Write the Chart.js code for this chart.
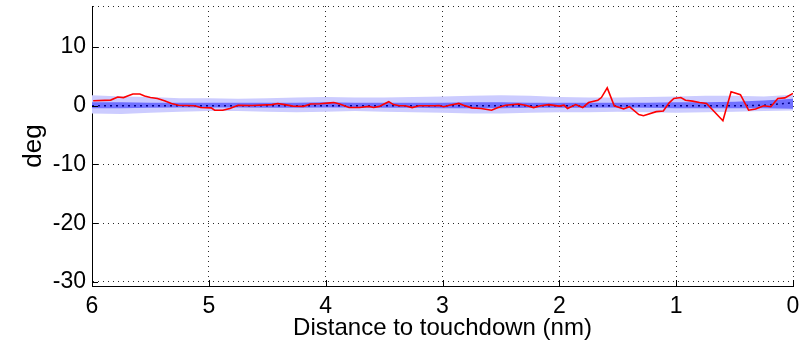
<!DOCTYPE html>
<html>
<head>
<meta charset="utf-8">
<script src="https://cdn.jsdelivr.net/npm/chart.js@4.4.1/dist/chart.umd.min.js"></script>
<style>
html,body{margin:0;padding:0;background:#fff;}
#wrap{width:808px;height:348px;position:relative;}
</style>
</head>
<body>
<div id="wrap"><canvas id="c" width="808" height="348"></canvas></div>
<script>
// ---- data ----
const xTicks = [0, 1, 2, 3, 4, 5, 6];
const yTicks = [-30, -20, -10, 0, 10];
const yTop = 17;
const yBottom = -30.7;

// red trace
const redDist = [5.99,5.84,5.78,5.73,5.69,5.65,5.59,5.55,5.50,5.44,5.38,5.32,5.26,5.12,5.07,4.98,4.95,4.88,4.82,4.75,4.63,4.46,4.41,4.35,4.28,4.19,4.13,4.05,3.96,3.93,3.88,3.80,3.71,3.63,3.59,3.54,3.50,3.46,3.42,3.37,3.32,3.26,3.20,3.07,3.03,2.99,2.94,2.86,2.82,2.75,2.67,2.58,2.53,2.46,2.35,2.29,2.22,2.16,2.09,2.00,1.96,1.93,1.86,1.80,1.75,1.67,1.64,1.59,1.53,1.45,1.40,1.32,1.28,1.17,1.11,1.06,1.02,0.96,0.92,0.86,0.80,0.74,0.60,0.53,0.45,0.38,0.32,0.25,0.19,0.13,0.07,0.00];
const redDeg  = [0.85,0.97,1.5,1.4,1.7,2.0,2.0,1.65,1.4,1.25,0.85,0.4,0.1,0.0,-0.3,-0.35,-0.75,-0.75,-0.45,0.1,0.05,0.2,0.4,0.2,-0.05,-0.1,0.3,0.35,0.5,0.55,0.3,-0.3,-0.3,-0.1,-0.3,-0.1,0.3,0.7,0.2,0.0,0.0,-0.3,0.0,0.0,0.05,-0.15,0.1,0.4,0.1,-0.35,-0.45,-0.75,-0.35,0.1,0.3,0.1,-0.3,0.0,0.2,-0.05,0.1,-0.45,0.2,-0.3,0.55,0.95,1.4,3.05,0.0,-0.55,-0.15,-1.5,-1.7,-1.0,-0.9,0.5,1.25,1.4,0.95,0.8,0.55,0.4,-2.55,2.4,1.9,-0.75,-0.55,0.0,-0.15,1.25,1.35,2.1];

// blue confidence bands
const bandDist  = [6,5.75,5.5,5.25,5,4.75,4.5,4.25,4,3.75,3.5,3.25,3,2.75,2.5,2.25,2,1.75,1.5,1.25,1,0.75,0.5,0.25,0];
const outerTop  = [1.8,1.6,1.5,1.3,1.3,1.2,1.3,1.4,1.5,1.4,1.4,1.5,1.6,1.7,1.8,1.7,1.5,1.4,1.4,1.5,1.6,1.7,1.7,1.6,1.9];
const outerBot  = [-1.3,-1.4,-1.2,-1.0,-0.9,-0.9,-1.0,-1.1,-1.0,-0.9,-1.0,-1.1,-1.2,-1.3,-1.3,-1.2,-1.1,-1.1,-1.0,-1.1,-1.2,-1.1,-1.0,-0.9,-0.8];
const innerTop  = [0.6,0.6,0.5,0.5,0.5,0.5,0.5,0.5,0.6,0.5,0.5,0.5,0.5,0.6,0.6,0.5,0.5,0.5,0.5,0.5,0.6,0.6,0.7,0.9,1.2];
const innerBot  = [-0.4,-0.4,-0.35,-0.3,-0.3,-0.3,-0.35,-0.35,-0.3,-0.3,-0.35,-0.35,-0.4,-0.4,-0.4,-0.35,-0.35,-0.35,-0.3,-0.35,-0.4,-0.4,-0.4,-0.4,-0.5];
const meanDeg   = [0,0,0,0,0,0,0,0,0,0,0,0,0,0,0,0,0,0,0,0,0,0,0,0.1,0.5];

const pts = (xs, ys) => xs.map((x, i) => ({x: x, y: ys[i]}));
const FONT = "'Liberation Sans', Arial, Helvetica, sans-serif";

const innerTicks = {
  id: 'innerTicks',
  afterDraw(chart) {
    const {ctx, chartArea: a, scales: {x, y}} = chart;
    ctx.save();
    ctx.strokeStyle = '#000';
    ctx.lineWidth = 1;
    yTicks.forEach(v => {
      const p = Math.round(y.getPixelForValue(v)) + 0.5;
      ctx.beginPath(); ctx.moveTo(a.left, p); ctx.lineTo(a.left + 6, p); ctx.stroke();
    });
    xTicks.forEach(v => {
      const p = Math.round(x.getPixelForValue(v)) + 0.5;
      ctx.beginPath(); ctx.moveTo(p, a.bottom); ctx.lineTo(p, a.bottom - 6); ctx.stroke();
    });
    ctx.restore();
  }
};

new Chart(document.getElementById('c'), {
  type: 'line',
  data: {
    datasets: [
      {data: pts(redDist, redDeg), borderColor: 'rgb(255,0,0)', borderWidth: 1.6, pointRadius: 0, fill: false, tension: 0},
      {data: pts(bandDist, meanDeg), borderColor: 'rgb(0,0,140)', borderWidth: 1.5, borderDash: [2, 4], pointRadius: 0, fill: false},
      {data: pts(bandDist, innerTop), borderWidth: 0, borderColor: 'rgba(0,0,0,0)', pointRadius: 0, fill: '+1', backgroundColor: 'rgb(112,112,255)'},
      {data: pts(bandDist, innerBot), borderWidth: 0, borderColor: 'rgba(0,0,0,0)', pointRadius: 0, fill: false},
      {data: pts(bandDist, outerTop), borderWidth: 0, borderColor: 'rgba(0,0,0,0)', pointRadius: 0, fill: '+1', backgroundColor: 'rgb(204,204,255)'},
      {data: pts(bandDist, outerBot), borderWidth: 0, borderColor: 'rgba(0,0,0,0)', pointRadius: 0, fill: false}
    ]
  },
  options: {
    responsive: false,
    animation: false,
    events: [],
    layout: {padding: {top: 6, right: 15, left: 0, bottom: 0}},
    plugins: {legend: {display: false}, tooltip: {enabled: false}},
    scales: {
      x: {
        type: 'linear', reverse: true, min: 0, max: 6,
        afterBuildTicks: s => { s.ticks = xTicks.map(v => ({value: v})); },
        afterFit: s => { s.height = 62; s.paddingLeft = 0; s.paddingRight = 0; },
        grid: {color: 'rgba(30,30,30,0.95)', lineWidth: 1, drawTicks: false},
        border: {display: true, color: '#000', width: 1, dash: [1, 4]},
        ticks: {color: '#000', padding: 7, font: {family: FONT, size: 23}, maxRotation: 0},
        title: {display: true, text: 'Distance to touchdown (nm)', color: '#000', font: {family: FONT, size: 24}, padding: {top: 0, bottom: 5}}
      },
      y: {
        type: 'linear', min: yBottom, max: yTop,
        afterBuildTicks: s => { s.ticks = yTicks.concat([yTop]).map(v => ({value: v})); },
        afterFit: s => { s.width = 92; s.paddingTop = 0; s.paddingBottom = 0; },
        grid: {color: 'rgba(30,30,30,0.95)', lineWidth: 1, drawTicks: false},
        border: {display: true, color: '#000', width: 1, dash: [1, 4]},
        ticks: {color: '#000', padding: 6, font: {family: FONT, size: 23}, callback: v => (yTicks.includes(v) ? String(v) : '')},
        title: {display: true, text: 'deg', color: '#000', font: {family: FONT, size: 26}, padding: {top: 18, bottom: 0}}
      }
    }
  },
  plugins: [innerTicks]
});
</script>
</body>
</html>
